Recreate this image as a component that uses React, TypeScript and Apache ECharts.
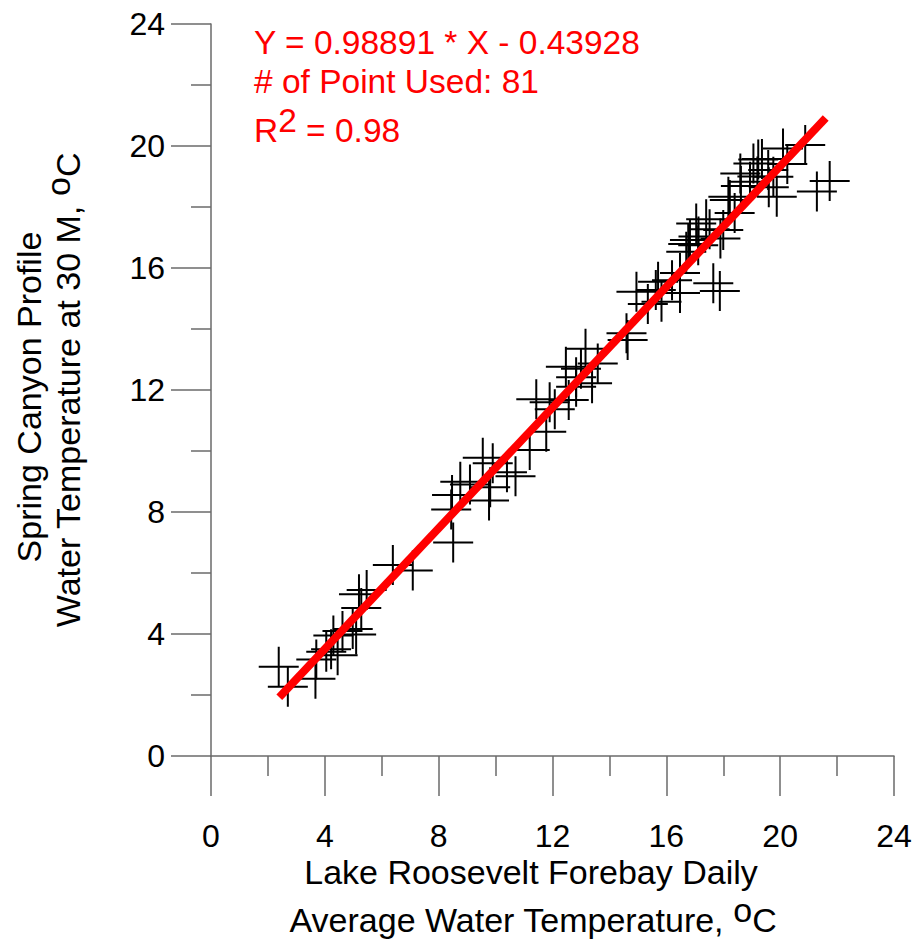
import React, { useEffect, useRef } from "react";
import * as echarts from "echarts";

// Observed points (Lake Roosevelt forebay daily avg vs Spring Canyon 30 m), degC
const obsX: number[] = [
  2.38, 2.70, 3.67, 3.70, 4.05, 4.22, 4.45, 4.62, 4.98, 5.10, 5.28, 5.47, 5.20, 6.39, 7.09, 4.30,
  8.51, 8.44, 8.47, 8.76, 9.77, 9.81, 9.55, 10.70, 9.10, 9.90, 10.40, 11.20, 11.78, 11.43, 12.08,
  12.57, 12.47, 12.83, 13.39, 13.16, 13.59, 12.83, 14.64, 14.60, 11.90,
  14.95, 15.35, 15.71, 15.83, 15.63, 16.48, 16.48, 17.65, 17.88, 16.77, 16.70, 17.12, 17.90, 17.13,
  16.83, 17.52, 17.05, 18.00, 18.18, 18.23, 18.62, 18.94, 19.06, 19.23, 19.36, 19.58, 19.76, 19.88,
  19.60, 20.10, 20.88, 20.25, 21.74, 21.29, 17.40, 18.40, 19.20, 16.20, 13.00, 18.60,
];
const obsY: number[] = [
  2.93, 2.27, 2.53, 3.16, 3.42, 3.50, 3.30, 4.10, 4.16, 3.98, 4.85, 5.44, 5.30, 6.26, 6.08, 3.95,
  7.00, 8.08, 8.56, 8.99, 8.38, 8.81, 9.78, 9.17, 8.90, 9.60, 9.30, 10.03, 10.63, 11.70, 11.37,
  11.67, 12.76, 12.42, 12.22, 13.35, 12.87, 12.11, 13.64, 13.86, 11.60,
  15.22, 14.82, 15.55, 14.89, 15.28, 15.18, 15.84, 15.50, 15.25, 16.79, 16.53, 16.75, 16.97, 17.03,
  16.92, 17.27, 17.46, 17.25, 18.34, 18.23, 18.69, 18.83, 19.43, 19.56, 19.57, 19.21, 18.99, 18.34,
  18.65, 19.92, 20.03, 19.41, 18.85, 18.51, 17.60, 17.80, 19.00, 15.60, 12.70, 19.10,
];

// Regression line end points: Y = 0.98891 * X - 0.43928
const fitX: number[] = [2.4, 21.6];
const fitY: number[] = [1.93, 20.92];

const axisTicks: number[] = [0, 4, 8, 12, 16, 20, 24];

const equationText = "Y = 0.98891 * X - 0.43928";
const pointsText = "# of Point Used: 81";
const r2Value = "0.98";

const FONT = '"Liberation Sans", Arial, sans-serif';
const AXIS_COLOR = "#6a6a6a";

const PLUS = "path://M19,0 L21,0 L21,19 L40,19 L40,21 L21,21 L21,40 L19,40 L19,21 L0,21 L0,19 L19,19 Z";

export default function App() {
  const ref = useRef<HTMLDivElement>(null);

  useEffect(() => {
    if (!ref.current) return;
    const chart = echarts.init(ref.current, undefined, { renderer: "svg" });

    const axisCommon = (labelMargin: number) => ({
      type: "value" as const,
      min: axisTicks[0],
      max: axisTicks[axisTicks.length - 1],
      interval: axisTicks[1] - axisTicks[0],
      axisLine: { show: true, onZero: false, lineStyle: { color: AXIS_COLOR, width: 1.5 } },
      axisTick: { show: true, inside: false, length: 40, lineStyle: { color: AXIS_COLOR, width: 1.5 } },
      minorTick: { show: true, splitNumber: 2, length: 20, lineStyle: { color: AXIS_COLOR, width: 1.5 } },
      axisLabel: { fontSize: 32, color: "#000", fontFamily: FONT, margin: labelMargin },
      splitLine: { show: false },
      minorSplitLine: { show: false },
    });

    const normal = (size: number) => ({
      fontSize: size,
      fontFamily: FONT,
      fill: "#000",
      color: "#000",
      padding: [10, 0, 0, 0],
      verticalAlign: "bottom",
    });
    const sup = (size: number) => ({
      fontSize: size,
      fontFamily: FONT,
      fill: "#000",
      color: "#000",
      verticalAlign: "top",
    });
    const red = (o: any) => ({ ...o, fill: "#ff0000", color: "#ff0000" });

    chart.setOption({
      animation: false,
      backgroundColor: "#fff",
      grid: { left: 211, right: 23, top: 24, bottom: 183, containLabel: false },
      xAxis: axisCommon(64),
      yAxis: axisCommon(46),
      series: [
        {
          type: "scatter",
          data: obsX.map((x, i) => [x, obsY[i]]),
          symbol: PLUS,
          symbolSize: 40,
          itemStyle: { color: "#000", opacity: 1 },
          z: 2,
        },
        {
          type: "line",
          data: fitX.map((x, i) => [x, fitY[i]]),
          showSymbol: false,
          symbol: "none",
          lineStyle: { color: "#ff0000", width: 8, cap: "butt" },
          z: 3,
        },
      ],
      graphic: [
        {
          type: "text",
          x: 254,
          y: 42,
          style: {
            text: equationText,
            fontSize: 33.5,
            fontFamily: FONT,
            fill: "#ff0000",
            align: "left",
            verticalAlign: "middle",
          },
        },
        {
          type: "text",
          x: 254,
          y: 81,
          style: {
            text: pointsText,
            fontSize: 33.5,
            fontFamily: FONT,
            fill: "#ff0000",
            align: "left",
            verticalAlign: "middle",
          },
        },
        {
          type: "text",
          x: 254,
          y: 125,
          style: {
            text: "{n|R}{s|2}{n| = " + r2Value + "}",
            align: "left",
            verticalAlign: "middle",
            rich: { n: red(normal(33.5)), s: red(sup(33.5)) },
          },
        },
        {
          type: "text",
          x: 531,
          y: 872,
          style: {
            text: "Lake Roosevelt Forebay Daily",
            fontSize: 34,
            fontFamily: FONT,
            fill: "#000",
            align: "center",
            verticalAlign: "middle",
          },
        },
        {
          type: "text",
          x: 533,
          y: 915,
          style: {
            text: "{n|Average Water Temperature, }{s|o}{n|C}",
            align: "center",
            verticalAlign: "middle",
            rich: { n: normal(34), s: sup(34) },
          },
        },
        {
          type: "text",
          x: 29,
          y: 397,
          rotation: Math.PI / 2,
          style: {
            text: "Spring Canyon Profile",
            fontSize: 34,
            fontFamily: FONT,
            fill: "#000",
            align: "center",
            verticalAlign: "middle",
          },
        },
        {
          type: "text",
          x: 63,
          y: 390,
          rotation: Math.PI / 2,
          style: {
            text: "{n|Water Temperature at 30 M, }{s|o}{n|C}",
            align: "center",
            verticalAlign: "middle",
            rich: { n: normal(34), s: sup(34) },
          },
        },
      ],
    });

    return () => chart.dispose();
  }, []);

  return (
    <div
      ref={ref}
      style={{ position: "fixed", left: 0, top: 0, width: 917, height: 939, background: "#fff" }}
    />
  );
}
